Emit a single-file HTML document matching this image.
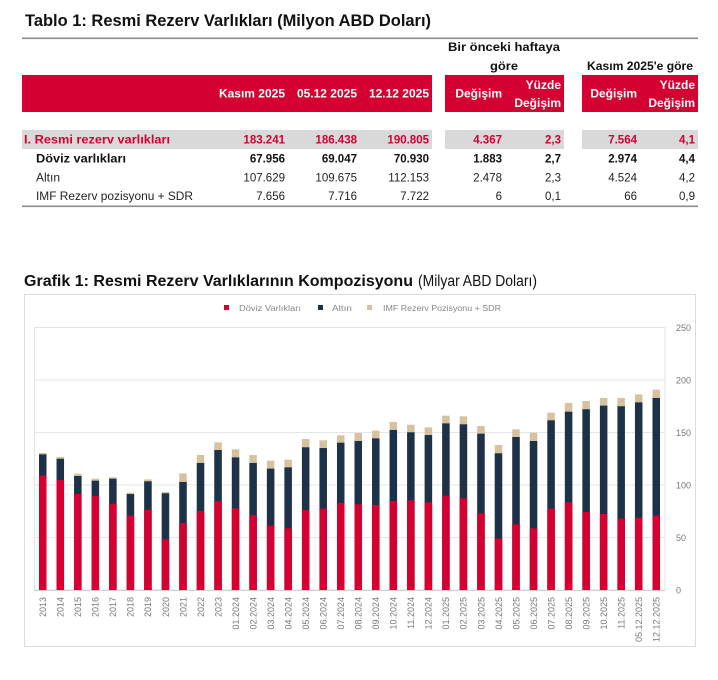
<!DOCTYPE html>
<html><head><meta charset="utf-8"><style>
html,body{margin:0;padding:0;background:#fff;}
svg{display:block;font-family:"Liberation Sans",sans-serif;}
</style></head><body>
<svg width="718" height="680" viewBox="0 0 718 680" xmlns="http://www.w3.org/2000/svg">
<rect width="718" height="680" fill="#fff"/>
<!-- Table title -->
<text x="25" y="26" font-size="17" font-weight="bold" fill="#111" textLength="406" lengthAdjust="spacingAndGlyphs">Tablo 1: Resmi Rezerv Varlıkları (Milyon ABD Doları)</text>
<rect x="22" y="37.5" width="676" height="1.6" fill="#8a8a8a"/>
<!-- group headers -->
<g font-size="11.5" font-weight="bold" fill="#111">
<text x="448" y="51" textLength="112" lengthAdjust="spacingAndGlyphs">Bir önceki haftaya</text>
<text x="490" y="70" textLength="28" lengthAdjust="spacingAndGlyphs">göre</text>
<text x="587" y="70" textLength="106" lengthAdjust="spacingAndGlyphs">Kasım 2025'e göre</text>
</g>
<!-- red header blocks -->
<rect x="22" y="75" width="410" height="37" fill="#d50032"/>
<rect x="445" y="75" width="119" height="37" fill="#d50032"/>
<rect x="582" y="75" width="116" height="37" fill="#d50032"/>
<g font-size="12" font-weight="bold" fill="#fff" text-anchor="end">
<text x="285" y="97.5">Kasım 2025</text>
<text x="357" y="97.5">05.12 2025</text>
<text x="429" y="97.5">12.12 2025</text>
<text x="502" y="97.5">Değişim</text>
<text x="561" y="89">Yüzde</text>
<text x="561" y="107">Değişim</text>
<text x="637" y="97.5">Değişim</text>
<text x="695" y="89">Yüzde</text>
<text x="695" y="107">Değişim</text>
</g>
<!-- gray band -->
<rect x="22" y="130" width="410" height="19" fill="#d9d9d9"/>
<rect x="445" y="130" width="119" height="19" fill="#d9d9d9"/>
<rect x="582" y="130" width="116" height="19" fill="#d9d9d9"/>
<!-- rows -->
<g font-size="11.5">
<text x="24" y="143.5" font-weight="bold" fill="#d50032" textLength="146" lengthAdjust="spacingAndGlyphs">I. Resmi rezerv varlıkları</text>
<g font-weight="bold" fill="#d50032" text-anchor="end">
<text x="285" y="143.5">183.241</text><text x="357" y="143.5">186.438</text><text x="429" y="143.5">190.805</text>
<text x="502" y="143.5">4.367</text><text x="561" y="143.5">2,3</text>
<text x="637" y="143.5">7.564</text><text x="695" y="143.5">4,1</text>
</g>
<text x="36" y="162.7" font-weight="bold" fill="#111" textLength="90" lengthAdjust="spacingAndGlyphs">Döviz varlıkları</text>
<g font-weight="bold" fill="#111" text-anchor="end">
<text x="285" y="162.7">67.956</text><text x="357" y="162.7">69.047</text><text x="429" y="162.7">70.930</text>
<text x="502" y="162.7">1.883</text><text x="561" y="162.7">2,7</text>
<text x="637" y="162.7">2.974</text><text x="695" y="162.7">4,4</text>
</g>
<text x="36" y="181.7" fill="#222" textLength="24" lengthAdjust="spacingAndGlyphs">Altın</text>
<g fill="#222" text-anchor="end">
<text x="285" y="181.7">107.629</text><text x="357" y="181.7">109.675</text><text x="429" y="181.7">112.153</text>
<text x="502" y="181.7">2.478</text><text x="561" y="181.7">2,3</text>
<text x="637" y="181.7">4.524</text><text x="695" y="181.7">4,2</text>
</g>
<text x="36" y="200" fill="#222" textLength="157" lengthAdjust="spacingAndGlyphs">IMF Rezerv pozisyonu + SDR</text>
<g fill="#222" text-anchor="end">
<text x="285" y="200">7.656</text><text x="357" y="200">7.716</text><text x="429" y="200">7.722</text>
<text x="502" y="200">6</text><text x="561" y="200">0,1</text>
<text x="637" y="200">66</text><text x="695" y="200">0,9</text>
</g>
</g>
<rect x="22" y="205.5" width="676" height="1.6" fill="#8a8a8a"/>

<!-- Chart title -->
<text x="24" y="286" font-size="15.5" font-weight="bold" fill="#111" textLength="389" lengthAdjust="spacingAndGlyphs">Grafik 1: Resmi Rezerv Varlıklarının Kompozisyonu</text>
<text x="418" y="286" font-size="15.5" fill="#111" textLength="119" lengthAdjust="spacingAndGlyphs">(Milyar ABD Doları)</text>

<!-- chart box -->
<rect x="24.5" y="294.5" width="671" height="352" fill="#fff" stroke="#dcdcdc" stroke-width="1"/>
<!-- legend -->
<rect x="224" y="305" width="5" height="5" fill="#d50032"/>
<text x="239" y="311" font-size="8.5" fill="#888" textLength="62" lengthAdjust="spacingAndGlyphs">Döviz Varlıkları</text>
<rect x="318" y="305" width="5" height="5" fill="#1d3148"/>
<text x="332" y="311" font-size="8.5" fill="#888" textLength="20" lengthAdjust="spacingAndGlyphs">Altın</text>
<rect x="367" y="305" width="5" height="5" fill="#d6c29f"/>
<text x="383" y="311" font-size="8.5" fill="#888" textLength="118" lengthAdjust="spacingAndGlyphs">IMF Rezerv Pozisyonu + SDR</text>

<!-- plot area -->
<rect x="34.5" y="327.5" width="630.5" height="262.5" fill="none" stroke="#e3e3e3" stroke-width="1"/>
<g stroke="#e6e6e6" stroke-width="1">
<line x1="34" y1="380" x2="665" y2="380"/>
<line x1="34" y1="432.5" x2="665" y2="432.5"/>
<line x1="34" y1="485" x2="665" y2="485"/>
<line x1="34" y1="537.5" x2="665" y2="537.5"/>
</g>
<g font-size="9" fill="#777">
<text x="676" y="331">250</text>
<text x="676" y="383.5">200</text>
<text x="676" y="436">150</text>
<text x="676" y="488.5">100</text>
<text x="676" y="541">50</text>
<text x="676" y="593.5">0</text>
</g>

<!-- bars: beige (total), dark, red -->
<g fill="#d6c29f">
<rect x="39.01" y="452.97" width="7.5" height="137.03"/>
<rect x="56.54" y="456.96" width="7.5" height="133.04"/>
<rect x="74.07" y="473.66" width="7.5" height="116.34"/>
<rect x="91.60" y="478.70" width="7.5" height="111.30"/>
<rect x="109.12" y="477.33" width="7.5" height="112.67"/>
<rect x="126.65" y="492.66" width="7.5" height="97.34"/>
<rect x="144.18" y="479.33" width="7.5" height="110.67"/>
<rect x="161.71" y="492.03" width="7.5" height="97.97"/>
<rect x="179.24" y="473.34" width="7.5" height="116.66"/>
<rect x="196.76" y="454.97" width="7.5" height="135.03"/>
<rect x="214.29" y="442.37" width="7.5" height="147.63"/>
<rect x="231.82" y="449.30" width="7.5" height="140.70"/>
<rect x="249.35" y="454.97" width="7.5" height="135.03"/>
<rect x="266.88" y="460.64" width="7.5" height="129.36"/>
<rect x="284.40" y="459.69" width="7.5" height="130.31"/>
<rect x="301.93" y="439.01" width="7.5" height="150.99"/>
<rect x="319.46" y="440.37" width="7.5" height="149.63"/>
<rect x="336.99" y="435.33" width="7.5" height="154.67"/>
<rect x="354.51" y="433.02" width="7.5" height="156.98"/>
<rect x="372.04" y="430.71" width="7.5" height="159.29"/>
<rect x="389.57" y="422.00" width="7.5" height="168.00"/>
<rect x="407.10" y="424.73" width="7.5" height="165.27"/>
<rect x="424.63" y="427.35" width="7.5" height="162.65"/>
<rect x="442.15" y="415.70" width="7.5" height="174.30"/>
<rect x="459.68" y="416.33" width="7.5" height="173.67"/>
<rect x="477.21" y="425.99" width="7.5" height="164.01"/>
<rect x="494.74" y="444.99" width="7.5" height="145.01"/>
<rect x="512.26" y="429.35" width="7.5" height="160.65"/>
<rect x="529.79" y="432.71" width="7.5" height="157.29"/>
<rect x="547.32" y="412.65" width="7.5" height="177.35"/>
<rect x="564.85" y="402.99" width="7.5" height="187.01"/>
<rect x="582.38" y="401.00" width="7.5" height="189.00"/>
<rect x="599.90" y="397.95" width="7.5" height="192.05"/>
<rect x="617.43" y="397.95" width="7.5" height="192.05"/>
<rect x="634.96" y="394.38" width="7.5" height="195.62"/>
<rect x="652.49" y="389.66" width="7.5" height="200.34"/>
</g>
<g fill="#1d3148">
<rect x="39.01" y="454.34" width="7.5" height="135.66"/>
<rect x="56.54" y="458.75" width="7.5" height="131.25"/>
<rect x="74.07" y="475.97" width="7.5" height="114.03"/>
<rect x="91.60" y="480.69" width="7.5" height="109.31"/>
<rect x="109.12" y="478.70" width="7.5" height="111.30"/>
<rect x="126.65" y="494.03" width="7.5" height="95.97"/>
<rect x="144.18" y="481.32" width="7.5" height="108.68"/>
<rect x="161.71" y="493.29" width="7.5" height="96.71"/>
<rect x="179.24" y="481.95" width="7.5" height="108.05"/>
<rect x="196.76" y="462.95" width="7.5" height="127.05"/>
<rect x="214.29" y="450.03" width="7.5" height="139.97"/>
<rect x="231.82" y="457.38" width="7.5" height="132.62"/>
<rect x="249.35" y="462.95" width="7.5" height="127.05"/>
<rect x="266.88" y="468.62" width="7.5" height="121.38"/>
<rect x="284.40" y="467.36" width="7.5" height="122.64"/>
<rect x="301.93" y="447.30" width="7.5" height="142.70"/>
<rect x="319.46" y="448.04" width="7.5" height="141.96"/>
<rect x="336.99" y="442.68" width="7.5" height="147.32"/>
<rect x="354.51" y="441.00" width="7.5" height="149.00"/>
<rect x="372.04" y="438.38" width="7.5" height="151.62"/>
<rect x="389.57" y="429.98" width="7.5" height="160.02"/>
<rect x="407.10" y="432.29" width="7.5" height="157.71"/>
<rect x="424.63" y="435.02" width="7.5" height="154.98"/>
<rect x="442.15" y="423.36" width="7.5" height="166.64"/>
<rect x="459.68" y="424.31" width="7.5" height="165.69"/>
<rect x="477.21" y="433.65" width="7.5" height="156.35"/>
<rect x="494.74" y="453.29" width="7.5" height="136.71"/>
<rect x="512.26" y="437.01" width="7.5" height="152.99"/>
<rect x="529.79" y="441.00" width="7.5" height="149.00"/>
<rect x="547.32" y="420.32" width="7.5" height="169.68"/>
<rect x="564.85" y="411.71" width="7.5" height="178.29"/>
<rect x="582.38" y="409.29" width="7.5" height="180.71"/>
<rect x="599.90" y="405.62" width="7.5" height="184.38"/>
<rect x="617.43" y="406.25" width="7.5" height="183.75"/>
<rect x="634.96" y="402.36" width="7.5" height="187.64"/>
<rect x="652.49" y="397.95" width="7.5" height="192.05"/>
</g>
<g fill="#d50032">
<rect x="39.01" y="475.65" width="7.5" height="114.35"/>
<rect x="56.54" y="479.96" width="7.5" height="110.04"/>
<rect x="74.07" y="494.03" width="7.5" height="95.97"/>
<rect x="91.60" y="495.71" width="7.5" height="94.29"/>
<rect x="109.12" y="503.69" width="7.5" height="86.31"/>
<rect x="126.65" y="515.66" width="7.5" height="74.34"/>
<rect x="144.18" y="509.67" width="7.5" height="80.33"/>
<rect x="161.71" y="539.28" width="7.5" height="50.72"/>
<rect x="179.24" y="523.01" width="7.5" height="66.99"/>
<rect x="196.76" y="511.04" width="7.5" height="78.96"/>
<rect x="214.29" y="500.96" width="7.5" height="89.04"/>
<rect x="231.82" y="508.31" width="7.5" height="81.69"/>
<rect x="249.35" y="515.34" width="7.5" height="74.66"/>
<rect x="266.88" y="525.63" width="7.5" height="64.37"/>
<rect x="284.40" y="528.36" width="7.5" height="61.64"/>
<rect x="301.93" y="509.99" width="7.5" height="80.01"/>
<rect x="319.46" y="508.62" width="7.5" height="81.38"/>
<rect x="336.99" y="502.95" width="7.5" height="87.05"/>
<rect x="354.51" y="504.32" width="7.5" height="85.68"/>
<rect x="372.04" y="504.95" width="7.5" height="85.05"/>
<rect x="389.57" y="500.96" width="7.5" height="89.04"/>
<rect x="407.10" y="500.33" width="7.5" height="89.67"/>
<rect x="424.63" y="502.32" width="7.5" height="87.68"/>
<rect x="442.15" y="495.71" width="7.5" height="94.29"/>
<rect x="459.68" y="498.33" width="7.5" height="91.67"/>
<rect x="477.21" y="513.35" width="7.5" height="76.65"/>
<rect x="494.74" y="538.65" width="7.5" height="51.35"/>
<rect x="512.26" y="524.37" width="7.5" height="65.63"/>
<rect x="529.79" y="528.36" width="7.5" height="61.64"/>
<rect x="547.32" y="508.62" width="7.5" height="81.38"/>
<rect x="564.85" y="502.32" width="7.5" height="87.68"/>
<rect x="582.38" y="511.98" width="7.5" height="78.02"/>
<rect x="599.90" y="513.98" width="7.5" height="76.02"/>
<rect x="617.43" y="518.60" width="7.5" height="71.40"/>
<rect x="634.96" y="517.65" width="7.5" height="72.35"/>
<rect x="652.49" y="515.66" width="7.5" height="74.34"/>
</g>
<line x1="34" y1="590.5" x2="665" y2="590.5" stroke="#d0d0d0" stroke-width="1"/>

<!-- x labels -->
<g font-size="9" fill="#777" text-anchor="end">
<text transform="translate(46.1,597) rotate(-90)">2013</text>
<text transform="translate(63.6,597) rotate(-90)">2014</text>
<text transform="translate(81.1,597) rotate(-90)">2015</text>
<text transform="translate(98.7,597) rotate(-90)">2016</text>
<text transform="translate(116.2,597) rotate(-90)">2017</text>
<text transform="translate(133.7,597) rotate(-90)">2018</text>
<text transform="translate(151.2,597) rotate(-90)">2019</text>
<text transform="translate(168.8,597) rotate(-90)">2020</text>
<text transform="translate(186.3,597) rotate(-90)">2021</text>
<text transform="translate(203.8,597) rotate(-90)">2022</text>
<text transform="translate(221.3,597) rotate(-90)">2023</text>
<text transform="translate(238.9,597) rotate(-90)">01.2024</text>
<text transform="translate(256.4,597) rotate(-90)">02.2024</text>
<text transform="translate(273.9,597) rotate(-90)">03.2024</text>
<text transform="translate(291.5,597) rotate(-90)">04.2024</text>
<text transform="translate(309.0,597) rotate(-90)">05.2024</text>
<text transform="translate(326.5,597) rotate(-90)">06.2024</text>
<text transform="translate(344.0,597) rotate(-90)">07.2024</text>
<text transform="translate(361.6,597) rotate(-90)">08.2024</text>
<text transform="translate(379.1,597) rotate(-90)">09.2024</text>
<text transform="translate(396.6,597) rotate(-90)">10.2024</text>
<text transform="translate(414.2,597) rotate(-90)">11.2024</text>
<text transform="translate(431.7,597) rotate(-90)">12.2024</text>
<text transform="translate(449.2,597) rotate(-90)">01.2025</text>
<text transform="translate(466.7,597) rotate(-90)">02.2025</text>
<text transform="translate(484.3,597) rotate(-90)">03.2025</text>
<text transform="translate(501.8,597) rotate(-90)">04.2025</text>
<text transform="translate(519.3,597) rotate(-90)">05.2025</text>
<text transform="translate(536.8,597) rotate(-90)">06.2025</text>
<text transform="translate(554.4,597) rotate(-90)">07.2025</text>
<text transform="translate(571.9,597) rotate(-90)">08.2025</text>
<text transform="translate(589.4,597) rotate(-90)">09.2025</text>
<text transform="translate(607.0,597) rotate(-90)">10.2025</text>
<text transform="translate(624.5,597) rotate(-90)">11.2025</text>
<text transform="translate(642.0,597) rotate(-90)">05.12.2025</text>
<text transform="translate(659.5,597) rotate(-90)">12.12.2025</text>
</g>
</svg>
</body></html>
